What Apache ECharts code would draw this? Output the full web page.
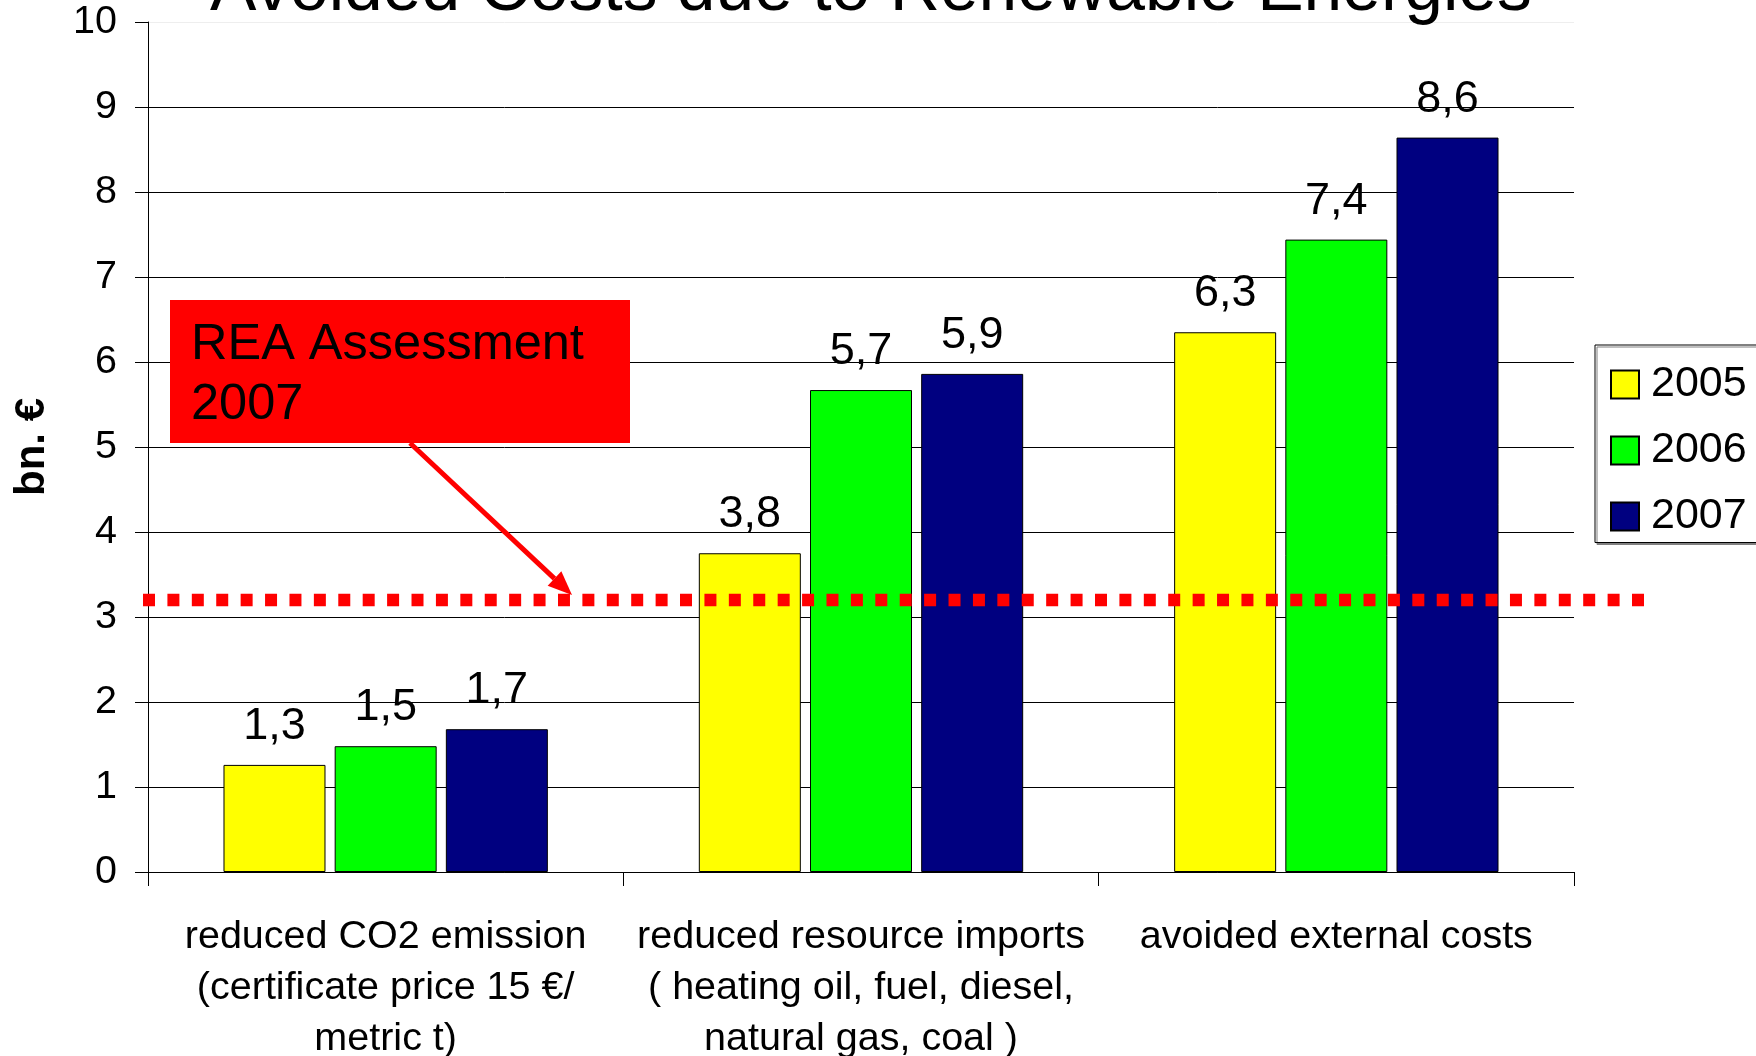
<!DOCTYPE html>
<html><head><meta charset="utf-8">
<script src="https://cdn.jsdelivr.net/npm/echarts@6/dist/echarts.min.js"></script>
<style>html,body{margin:0;padding:0;background:#fff}#c{width:1756px;height:1056px}</style>
</head><body><div id="c"></div>
<script>
const titleText = "Avoided Costs due to Renewable Energies";
const axisName = "bn. €";
const categories = [
  "reduced CO2 emission\n(certificate price 15 €/\nmetric t)",
  "reduced resource imports\n( heating oil, fuel, diesel,\nnatural gas, coal )",
  "avoided external costs"
];
const years = ["2005", "2006", "2007"];
const values2005 = [1.26, 3.75, 6.35];
const values2006 = [1.48, 5.67, 7.44];
const values2007 = [1.68, 5.86, 8.64];
const yMin = 0, yMax = 10, yInterval = 1;
const reaAssessment = 3.2;
const annotationText = "REA Assessment\n2007";

const FONT = "'Liberation Sans', Arial, sans-serif";
const colors = ["#ffff00", "#00ff00", "#000080"];
const seriesValues = [values2005, values2006, values2007];

const chart = echarts.init(document.getElementById('c'), null, {renderer: 'canvas'});

const splitColors = [];
for (let v = yMin; v <= yMax; v += yInterval) splitColors.push(v === yMax ? '#eeeeee' : '#000000');

// arrow geometry (annotation)
const aStart = [410, 443], aTip = [572, 595];
const dx = aTip[0] - aStart[0], dy = aTip[1] - aStart[1];
const len = Math.sqrt(dx*dx + dy*dy);
const ux = dx/len, uy = dy/len;
const headLen = 24, headHalf = 10;
const baseC = [aTip[0] - ux*headLen, aTip[1] - uy*headLen];
const headPts = [aTip, [baseC[0] - uy*headHalf, baseC[1] + ux*headHalf], [baseC[0] + uy*headHalf, baseC[1] - ux*headHalf]];

const barSeries = years.map((y, i) => ({
  name: y,
  type: 'bar',
  xAxisIndex: 0, yAxisIndex: 0,
  data: seriesValues[i],
  barWidth: 102,
  barGap: '9%',
  itemStyle: {color: colors[i], borderColor: '#000', borderWidth: 1},
  label: {
    show: true, position: 'top', distance: 16,
    fontSize: 45, fontFamily: FONT, color: '#000',
    formatter: p => p.value.toFixed(1).replace('.', ',')
  },
  z: 2
}));

const option = {
  animation: false,
  backgroundColor: '#fff',
  title: {
    text: titleText, left: 210, top: -44, padding: 0,
    textStyle: {fontSize: 69.6, fontWeight: 'normal', fontFamily: FONT, color: '#000', lineHeight: 69.6}
  },
  legend: {
    data: years, orient: 'vertical', left: 1595, top: 345,
    icon: 'rect', itemWidth: 28, itemHeight: 28, itemGap: 23,
    padding: [18, 30, 4.5, 15],
    borderColor: '#000', borderWidth: 1, backgroundColor: '#fff',
    shadowColor: '#808080', shadowOffsetX: 2, shadowOffsetY: 2, shadowBlur: 0,
    textStyle: {fontSize: 43, fontFamily: FONT, color: '#000', padding: [0, 0, 0, 7]}
  },
  grid: [
    {left: 148, right: 182, top: 22, bottom: 184, containLabel: false, outerBoundsMode: 'none'},
    {left: 143, right: 112, top: 22, bottom: 184, containLabel: false, outerBoundsMode: 'none'}
  ],
  xAxis: [
    {
      type: 'category', gridIndex: 0, data: categories,
      axisLine: {show: true, lineStyle: {color: '#000', width: 1}},
      axisTick: {show: true, length: 14, lineStyle: {color: '#000'}},
      axisLabel: {interval: 0, margin: 40, fontSize: 39.5, lineHeight: 51, fontFamily: FONT, color: '#000', align: 'center'},
      splitLine: {show: false}
    },
    {type: 'value', gridIndex: 1, min: 0, max: 1, show: false}
  ],
  yAxis: [
    {
      type: 'value', gridIndex: 0, min: yMin, max: yMax, interval: yInterval,
      name: axisName, nameLocation: 'middle', nameGap: 95,
      nameTextStyle: {fontSize: 42, fontWeight: 'bold', fontFamily: FONT, color: '#000'},
      axisLine: {show: true, lineStyle: {color: '#000', width: 1}},
      axisTick: {show: true, length: 13, lineStyle: {color: '#000'}},
      axisLabel: {margin: 31, fontSize: 39.5, fontFamily: FONT, color: '#000'},
      splitLine: {show: true, lineStyle: {color: splitColors, width: 1}}
    },
    {type: 'value', gridIndex: 1, min: yMin, max: yMax, show: false}
  ],
  series: barSeries.concat([{
    name: 'REA Assessment 2007', type: 'line', xAxisIndex: 1, yAxisIndex: 1,
    data: [[0, reaAssessment], [1, reaAssessment]],
    symbol: 'none', silent: true,
    lineStyle: {color: '#ff0000', width: 12.5, type: [12, 12.41], cap: 'butt'},
    z: 10
  }]),
  graphic: [
    {type: 'rect', shape: {x: 170, y: 300, width: 460, height: 143}, style: {fill: '#ff0000'}, z: 50},
    {type: 'text', x: 191, y: 315, style: {text: annotationText, fill: '#000', font: '50.5px ' + FONT, lineHeight: 60, verticalAlign: 'top', align: 'left'}, z: 51},
    {type: 'line', shape: {x1: aStart[0], y1: aStart[1], x2: baseC[0], y2: baseC[1]}, style: {stroke: '#ff0000', lineWidth: 5}, z: 50},
    {type: 'polygon', shape: {points: headPts}, style: {fill: '#ff0000'}, z: 50}
  ]
};
chart.setOption(option);
</script>
</body></html>
